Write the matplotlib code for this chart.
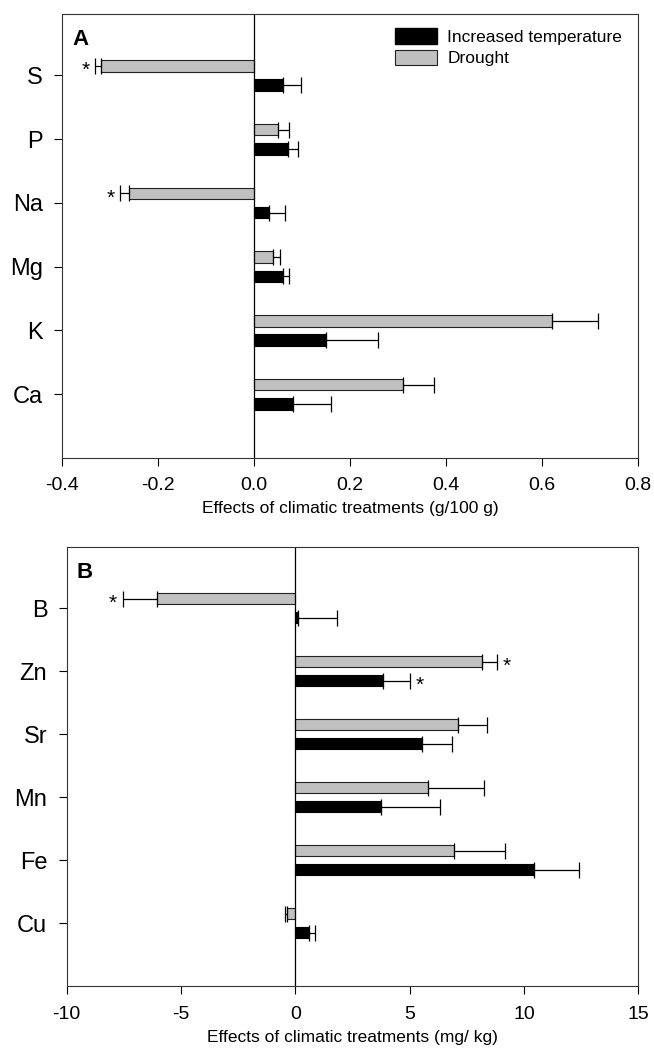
import numpy as np
import matplotlib
matplotlib.use("Agg")
import matplotlib.pyplot as plt
from matplotlib.patches import Patch

plt.rcParams['font.family'] = ['Liberation Sans', 'DejaVu Sans']
plt.rcParams['axes.unicode_minus'] = False

# panel A (g/100 g), listed bottom to top
elems_a = ["Ca", "K", "Mg", "Na", "P", "S"]
drought_a = [0.31, 0.62, 0.04, -0.26, 0.05, -0.32]
drought_a_err = [0.064, 0.097, 0.014, 0.020, 0.023, 0.012]
temp_a = [0.08, 0.15, 0.06, 0.03, 0.07, 0.06]
temp_a_err = [0.079, 0.107, 0.012, 0.034, 0.022, 0.038]
stars_a = {"drought": ["Na", "S"], "temp": []}

# panel B (mg/kg)
elems_b = ["Cu", "Fe", "Mn", "Sr", "Zn", "B"]
drought_b = [-0.36, 6.95, 5.8, 7.13, 8.16, -6.05]
drought_b_err = [0.1, 2.2, 2.47, 1.27, 0.64, 1.5]
temp_b = [0.58, 10.44, 3.76, 5.53, 3.85, 0.1]
temp_b_err = [0.27, 1.98, 2.58, 1.32, 1.15, 1.72]
stars_b = {"drought": ["Zn", "B"], "temp": ["Zn"]}

GRAY = "#c0c0c0"


def one_sided(vals, errs):
    vals = np.array(vals)
    errs = np.array(errs)
    lo = np.where(vals < 0, errs, 0)
    hi = np.where(vals < 0, 0, errs)
    return [lo, hi]


def draw_panel(ax, elems, drought, d_err, temp, t_err, stars, xlim, xticks,
               xlabel, letter, star_pad):
    y = np.arange(len(elems))
    off = 0.15
    h = 0.18
    ax.barh(y + off, drought, height=h, color=GRAY, edgecolor="#222222", linewidth=0.8,
            xerr=one_sided(drought, d_err), error_kw=dict(ecolor="black", elinewidth=0.9,
                                                         capsize=6, capthick=0.9))
    ax.barh(y - off, temp, height=h, color="black", edgecolor="black", linewidth=0.8,
            xerr=one_sided(temp, t_err), error_kw=dict(ecolor="black", elinewidth=0.9,
                                                      capsize=6, capthick=0.9))
    ax.axvline(0, color="black", linewidth=0.9)

    for name, vals, errs, dy in [("drought", drought, d_err, off), ("temp", temp, t_err, -off)]:
        for e in stars[name]:
            i = elems.index(e)
            v = vals[i]
            end = v + errs[i] if v >= 0 else v - errs[i]
            ys = i + dy - 0.07
            if v >= 0:
                ax.text(end + star_pad, ys, "*", ha="left", va="center", fontsize=15)
            else:
                ax.text(end - star_pad, ys, "*", ha="right", va="center", fontsize=15)

    ax.set_xlim(*xlim)
    ax.set_ylim(-1, 5.97)
    ax.set_xticks(xticks)
    ax.set_yticks(y)
    ax.set_yticklabels(elems, fontsize=17)
    ax.tick_params(axis="x", labelsize=14, length=6, width=0.8, direction="out", pad=8)
    ax.tick_params(axis="y", length=6, width=0.8, direction="out", pad=8)
    ax.set_xlabel(xlabel, fontsize=12.5, labelpad=5)
    for s in ax.spines.values():
        s.set_linewidth(0.8)
        s.set_color("#333333")
    ax.text(0.018, 0.965, letter, transform=ax.transAxes, fontsize=16, fontweight="bold",
            ha="left", va="top")


fig = plt.figure(figsize=(6.54, 10.48), dpi=100)
ax1 = fig.add_axes([0.095, 0.563, 0.881, 0.424])
ax2 = fig.add_axes([0.102, 0.059, 0.874, 0.419])

draw_panel(ax1, elems_a, drought_a, drought_a_err, temp_a, temp_a_err, stars_a,
           (-0.4, 0.8), [-0.4, -0.2, 0.0, 0.2, 0.4, 0.6, 0.8],
           "Effects of climatic treatments (g/100 g)", "A", 0.01)
ax1.set_xticklabels(["-0.4", "-0.2", "0.0", "0.2", "0.4", "0.6", "0.8"])

draw_panel(ax2, elems_b, drought_b, drought_b_err, temp_b, temp_b_err, stars_b,
           (-10, 15), [-10, -5, 0, 5, 10, 15],
           "Effects of climatic treatments (mg/ kg)", "B", 0.25)

handles = [Patch(facecolor="black", edgecolor="black", label="Increased temperature"),
           Patch(facecolor=GRAY, edgecolor="#222222", linewidth=0.8, label="Drought")]
ax1.legend(handles=handles, loc="upper right", frameon=False, fontsize=12.5,
           handlelength=2.4, handleheight=1.0, labelspacing=0.25, handletextpad=0.6,
           bbox_to_anchor=(0.99, 0.99), borderaxespad=0.2)

fig.savefig("out.png", dpi=100)
